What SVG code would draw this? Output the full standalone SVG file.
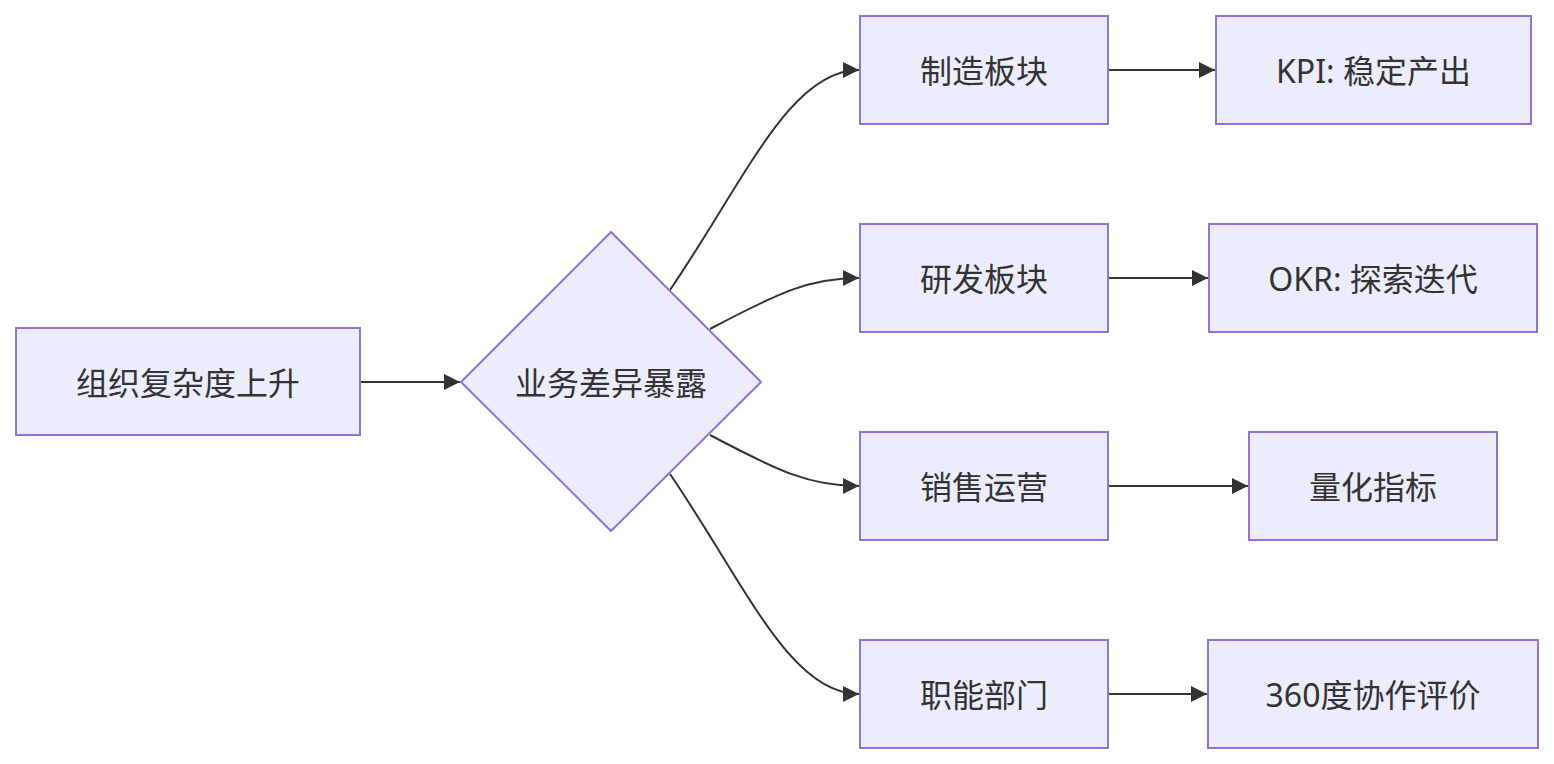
<svg xmlns="http://www.w3.org/2000/svg" width="1554" height="764" viewBox="0 0 1554 764">
<style>
.n{fill:#ECECFF;stroke:#9370DB;stroke-width:2}
.t{font-family:"Noto Sans","Noto Sans CJK SC",sans-serif;font-size:32px;fill:#333;text-anchor:middle;dominant-baseline:central}
.e{fill:none;stroke:#333;stroke-width:2}
</style>
<defs>
<marker id="ah" viewBox="0 0 10 10" refX="10" refY="5" markerUnits="userSpaceOnUse" markerWidth="16" markerHeight="16" orient="auto">
<path d="M0,0 L10,5 L0,10 z" fill="#333"/>
</marker>
</defs>
<g id="edges">
<path class="e" d="M361,382 L460,382" marker-end="url(#ah)"/>
<path class="e" d="M670,290 C745,180 790,70 859,70" marker-end="url(#ah)"/>
<path class="e" d="M710,329 C780,292 810,278 859,278" marker-end="url(#ah)"/>
<path class="e" d="M710,435 C780,472 810,486 859,486" marker-end="url(#ah)"/>
<path class="e" d="M670,474 C745,584 790,694 859,694" marker-end="url(#ah)"/>
<path class="e" d="M1109,70 L1215,70" marker-end="url(#ah)"/>
<path class="e" d="M1109,278 L1208,278" marker-end="url(#ah)"/>
<path class="e" d="M1109,486 L1248,486" marker-end="url(#ah)"/>
<path class="e" d="M1109,694 L1207,694" marker-end="url(#ah)"/>
</g>
<g id="A"><rect class="n" x="16" y="328" width="344" height="107"/><text class="t" x="188" y="382">组织复杂度上升</text></g>
<g id="B"><polygon class="n" points="611,232 761,382 611,531 461,382"/><text class="t" x="611" y="382">业务差异暴露</text></g>
<g id="C1"><rect class="n" x="860" y="16" width="248" height="108"/><text class="t" x="984" y="70">制造板块</text></g>
<g id="C2"><rect class="n" x="860" y="224" width="248" height="108"/><text class="t" x="984" y="278">研发板块</text></g>
<g id="C3"><rect class="n" x="860" y="432" width="248" height="108"/><text class="t" x="984" y="486">销售运营</text></g>
<g id="C4"><rect class="n" x="860" y="640" width="248" height="108"/><text class="t" x="984" y="694">职能部门</text></g>
<g id="D1"><rect class="n" x="1216" y="16" width="315" height="108"/><text class="t" x="1373.500" y="70">KPI: 稳定产出</text></g>
<g id="D2"><rect class="n" x="1209" y="224" width="328" height="108"/><text class="t" x="1373" y="278">OKR: 探索迭代</text></g>
<g id="D3"><rect class="n" x="1249" y="432" width="248" height="108"/><text class="t" x="1373" y="486">量化指标</text></g>
<g id="D4"><rect class="n" x="1208" y="640" width="330" height="108"/><text class="t" x="1373" y="694">360度协作评价</text></g>
</svg>
